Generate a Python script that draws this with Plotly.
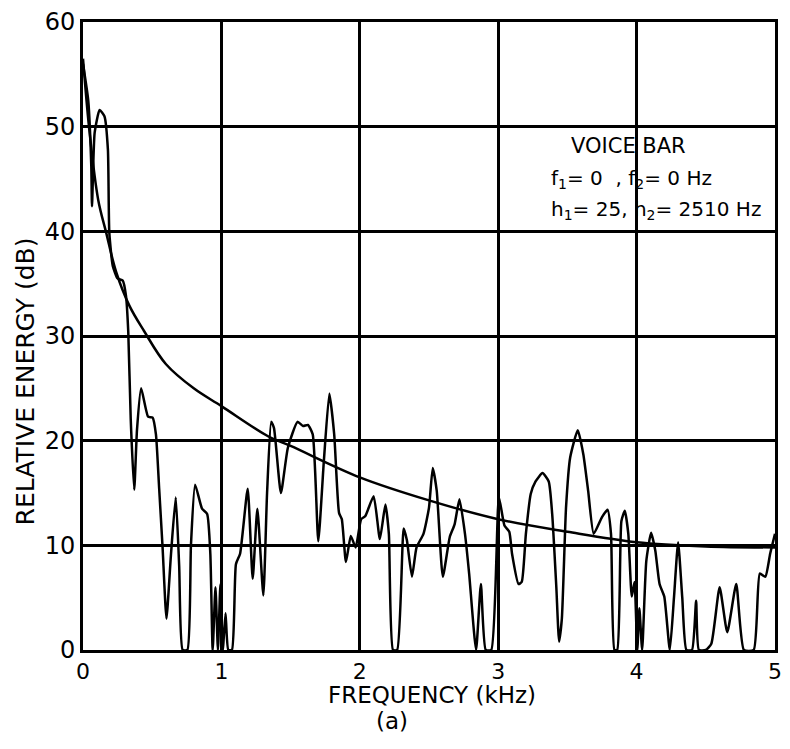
import plotly.graph_objects as go

# Spectrum (jagged) trace: frequency (kHz) and relative energy (dB)
spec_f = [0.0, 0.038, 0.06, 0.065, 0.084, 0.12, 0.155, 0.18, 0.19, 0.215, 0.25, 0.287, 0.31, 0.327,
          0.345, 0.37, 0.39, 0.42, 0.47, 0.503, 0.527, 0.55, 0.575, 0.603, 0.635, 0.67, 0.695, 0.72,
          0.754, 0.78, 0.81, 0.86, 0.897, 0.92, 0.937, 0.957, 0.975, 0.993, 1.01, 1.03, 1.05, 1.076,
          1.105, 1.135, 1.19, 1.226, 1.26, 1.303, 1.33, 1.36, 1.38, 1.43, 1.48, 1.55, 1.59, 1.625,
          1.66, 1.70, 1.74, 1.78, 1.815, 1.85, 1.87, 1.90, 1.935, 1.97, 2.01, 2.04, 2.10, 2.145,
          2.185, 2.21, 2.24, 2.27, 2.317, 2.34, 2.377, 2.41, 2.46, 2.50, 2.527, 2.556, 2.60, 2.65,
          2.685, 2.72, 2.76, 2.79, 2.84, 2.875, 2.91, 2.95, 3.005, 3.045, 3.08, 3.10, 3.147, 3.17,
          3.20, 3.235, 3.27, 3.32, 3.365, 3.39, 3.42, 3.44, 3.46, 3.49, 3.52, 3.575, 3.615, 3.65,
          3.69, 3.75, 3.79, 3.815, 3.84, 3.86, 3.89, 3.915, 3.94, 3.965, 3.985, 4.005, 4.02, 4.04,
          4.07, 4.105, 4.135, 4.166, 4.20, 4.24, 4.27, 4.30, 4.33, 4.36, 4.40, 4.43, 4.45, 4.50,
          4.54, 4.60, 4.655, 4.72, 4.775, 4.846, 4.89, 4.93, 4.965, 5.0]
spec_db = [56.0, 52.5, 46.2, 42.4, 49.4, 51.6, 51.0, 47.8, 39.9, 36.7, 35.5, 35.3, 33.9, 30.4,
           22.0, 15.3, 21.0, 25.0, 22.3, 22.2, 20.6, 15.5, 9.8, 3.0, 9.0, 14.6, 8.0, 0.0,
           0.0, 10.0, 15.8, 13.5, 13.0, 9.2, 0.0, 6.0, 0.0, 6.3, 0.0, 3.5, 0.0, 0.0,
           8.2, 9.2, 15.4, 6.8, 13.5, 5.2, 15.0, 21.8, 21.2, 15.0, 19.3, 21.8, 21.4, 21.5,
           20.6, 10.4, 18.0, 24.5, 20.6, 13.1, 12.5, 8.4, 10.9, 9.8, 12.5, 12.8, 14.7, 10.6,
           13.9, 11.1, 0.0, 0.0, 11.6, 10.5, 7.0, 9.8, 11.1, 13.6, 17.4, 15.2, 7.0, 10.8,
           12.0, 14.4, 11.1, 7.3, 0.0, 6.3, 0.0, 0.0, 14.6, 11.9, 11.3, 9.2, 6.3, 6.5,
           11.1, 14.9, 16.1, 16.9, 16.1, 13.0, 6.0, 0.8, 3.0, 13.6, 18.4, 21.0, 18.7, 15.2,
           11.1, 12.7, 13.4, 11.1, 0.0, 0.0, 12.3, 13.3, 11.1, 5.1, 6.5, 0.0, 4.0, 0.0,
           8.5, 11.2, 9.5, 6.3, 5.1, 0.0, 5.0, 10.3, 5.0, 0.0, 0.0, 4.7, 0.0, 0.0,
           0.6, 6.0, 1.7, 6.3, 0.0, 0.0, 7.3, 7.0, 9.2, 11.1]

# Smooth (voice-bar model) curve
model_f = [0.0, 0.048, 0.11, 0.167, 0.24, 0.335, 0.44, 0.6, 0.8, 1.0, 1.34, 1.5, 2.0, 2.5,
           3.0, 3.5, 4.0, 4.5, 5.0]
model_db = [56.5, 49.4, 43.0, 39.9, 36.1, 32.9, 30.5, 27.3, 25.0, 23.3, 20.4, 19.5, 16.5, 14.3,
            12.5, 11.3, 10.3, 9.9, 9.8]

x_ticks = [0, 1, 2, 3, 4, 5]
y_ticks = [0, 10, 20, 30, 40, 50, 60]

FONT = "DejaVu Sans"

fig = go.Figure()
fig.add_trace(go.Scatter(x=model_f, y=model_db, mode="lines",
                         line=dict(color="black", width=2.5, shape="spline", smoothing=1.0),
                         showlegend=False, cliponaxis=True))
fig.add_trace(go.Scatter(x=spec_f, y=spec_db, mode="lines",
                         line=dict(color="black", width=2.5, shape="spline", smoothing=0.5),
                         showlegend=False, cliponaxis=True))

fig.update_layout(
    width=790, height=749,
    margin=dict(l=83, r=8, t=18, b=99),
    paper_bgcolor="white", plot_bgcolor="white",
    font=dict(family=FONT, color="black", size=22),
    xaxis=dict(range=[0, 5], tickvals=x_ticks, ticktext=[str(v) for v in x_ticks],
               showgrid=True, gridcolor="black", gridwidth=3,
               showline=True, linecolor="black", linewidth=3, mirror=True,
               zeroline=False, ticks="", tickfont=dict(size=22, family=FONT)),
    yaxis=dict(range=[0, 60], tickvals=y_ticks, ticktext=[str(v) for v in y_ticks],
               showgrid=True, gridcolor="black", gridwidth=3,
               showline=True, linecolor="black", linewidth=3, mirror=True,
               zeroline=False, ticks="", tickfont=dict(size=24, family=FONT)),
)

fig.add_annotation(text="FREQUENCY (kHz)", xref="paper", yref="paper",
                   x=0.504, y=-0.072, showarrow=False,
                   font=dict(size=23, family=FONT), xanchor="center", yanchor="middle")
fig.add_annotation(text="RELATIVE ENERGY (dB)", xref="paper", yref="paper",
                   x=-0.083, y=0.427, textangle=-90, showarrow=False,
                   font=dict(size=25, family=FONT), xanchor="center", yanchor="middle")
fig.add_annotation(text="(a)", xref="paper", yref="paper", x=0.447, y=-0.113,
                   showarrow=False, font=dict(size=23, family=FONT),
                   xanchor="center", yanchor="middle")

fig.add_annotation(text="VOICE BAR", x=3.94, y=48.2, showarrow=False,
                   font=dict(size=21, family=FONT), xanchor="center", yanchor="middle")
fig.add_annotation(text="f<sub>1</sub>= 0  , f<sub>2</sub>= 0 Hz", x=3.37, y=45.0, showarrow=False,
                   font=dict(size=20, family=FONT), xanchor="left", yanchor="middle")
fig.add_annotation(text="h<sub>1</sub>= 25, h<sub>2</sub>= 2510 Hz", x=3.37, y=42.0, showarrow=False,
                   font=dict(size=20, family=FONT), xanchor="left", yanchor="middle")

fig.write_html("out.html")
